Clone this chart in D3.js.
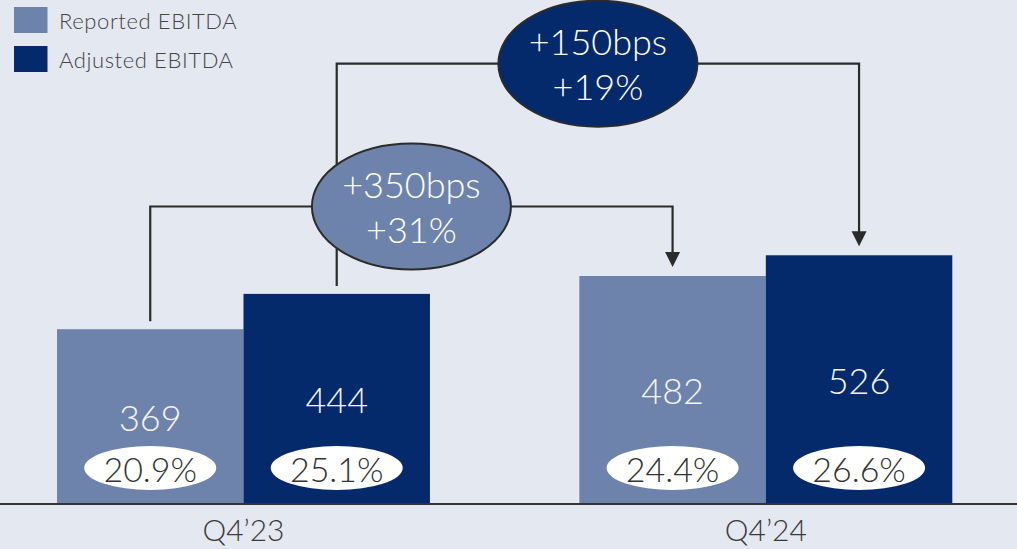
<!DOCTYPE html>
<html>
<head>
<meta charset="utf-8">
<script src="https://cdn.jsdelivr.net/npm/d3@7"></script>
<style>
	html, body { margin: 0; padding: 0; background: #e4e8f1; }
	svg { display: block; font-family: Lato, "Open Sans", sans-serif; font-weight: 300; }
</style>
</head>
<body>
<div class="chart"></div>
<script>
// chart data
const quarters = ["Q4’23", "Q4’24"];
const seriesNames = ["Reported EBITDA", "Adjusted EBITDA"];
const reported = [369, 482];
const adjusted = [444, 526];
const reportedMargin = ["20.9%", "24.4%"];
const adjustedMargin = ["25.1%", "26.6%"];
const bridgeSeries = ["Reported EBITDA", "Adjusted EBITDA"];
const bridgeBps = ["+350bps", "+150bps"];
const bridgePct = ["+31%", "+19%"];

const width = 1017;
const height = 549;
const colors = { "Reported EBITDA": "#6e83ab", "Adjusted EBITDA": "#042a6b" };
const lineColor = "#2b2b2b";
const bridgeLevels = [206.5, 63.7]; // y of the horizontal connector per bridge

const svg = d3.select("div.chart")
	.append("svg")
	.attr("width", width)
	.attr("height", height);

const x0 = d3.scaleBand()
	.domain(quarters)
	.range([57, 952.3])
	.paddingInner(0.286)
	.paddingOuter(0);

const x1 = d3.scaleBand()
	.domain(seriesNames)
	.range([0, x0.bandwidth()]);

const y = d3.scaleLinear()
	.domain([0, 1068])
	.range([503, 0]);

const valuesBySeries = { "Reported EBITDA": reported, "Adjusted EBITDA": adjusted };
const marginsBySeries = { "Reported EBITDA": reportedMargin, "Adjusted EBITDA": adjustedMargin };

let bars = [];
quarters.forEach((q, i) => {
	seriesNames.forEach(s => {
		bars.push({ quarter: q, series: s, value: valuesBySeries[s][i], margin: marginsBySeries[s][i] });
	});
});

const barX = d => x0(d.quarter) + x1(d.series);
const barCx = d => barX(d) + x1.bandwidth() / 2;

// bars
svg.append("g")
	.selectAll("rect")
	.data(bars)
	.join("rect")
	.attr("x", barX)
	.attr("y", d => y(d.value))
	.attr("width", x1.bandwidth())
	.attr("height", d => y(0) - y(d.value))
	.attr("fill", d => colors[d.series]);

// value labels, centred in the bar
svg.append("g")
	.selectAll("text")
	.data(bars)
	.join("text")
	.attr("x", barCx)
	.attr("y", d => (y(d.value) + y(0)) / 2 + 15)
	.attr("text-anchor", "middle")
	.attr("font-size", 36)
	.attr("fill", "#f4f5f8")
	.text(d => d.value);

// margin bubbles
let bubbles = svg.append("g")
	.selectAll("g")
	.data(bars)
	.join("g");

bubbles.append("ellipse")
	.attr("cx", barCx)
	.attr("cy", y(0) - 35)
	.attr("rx", 66)
	.attr("ry", 22)
	.attr("fill", "#ffffff");

bubbles.append("text")
	.attr("x", barCx)
	.attr("y", y(0) - 21.5)
	.attr("text-anchor", "middle")
	.attr("font-size", 34)
	.attr("fill", "#333333")
	.text(d => d.margin);

// baseline
svg.append("line")
	.attr("x1", 0)
	.attr("x2", width)
	.attr("y1", y(0) + 1)
	.attr("y2", y(0) + 1)
	.attr("stroke", "#333333")
	.attr("stroke-width", 2);

// category labels
svg.append("g")
	.selectAll("text")
	.data(quarters)
	.join("text")
	.attr("x", d => x0(d) + x0.bandwidth() / 2)
	.attr("y", y(0) + 38)
	.attr("text-anchor", "middle")
	.attr("font-size", 30)
	.attr("fill", "#3a3a3a")
	.text(d => d);

// bridges between the two quarters
let bridges = bridgeSeries.map((s, i) => {
	let from = bars.find(b => b.series === s && b.quarter === quarters[0]);
	let to = bars.find(b => b.series === s && b.quarter === quarters[1]);
	return { series: s, from, to, level: bridgeLevels[i], bps: bridgeBps[i], pct: bridgePct[i] };
});

let connectors = svg.append("g");
bridges.forEach(b => {
	let xa = barCx(b.from);
	let xb = barCx(b.to);
	let tipY = y(b.to.value) - 9;
	connectors.append("path")
		.attr("d", "M" + xa + "," + (y(b.from.value) - 8) + " V" + b.level + " H" + xb + " V" + (tipY - 14))
		.attr("fill", "none")
		.attr("stroke", lineColor)
		.attr("stroke-width", 2.2);
	connectors.append("path")
		.attr("d", "M" + (xb - 7.5) + "," + (tipY - 15) + " L" + (xb + 7.5) + "," + (tipY - 15) + " L" + xb + "," + tipY + " Z")
		.attr("fill", lineColor);
});

let labels = svg.append("g")
	.selectAll("g")
	.data(bridges)
	.join("g")
	.attr("transform", d => "translate(" + ((barCx(d.from) + barCx(d.to)) / 2) + "," + d.level + ")");

labels.append("ellipse")
	.attr("rx", 99.5)
	.attr("ry", 63)
	.attr("fill", d => colors[d.series])
	.attr("stroke", lineColor)
	.attr("stroke-width", 2);

labels.append("text")
	.attr("y", -8.5)
	.attr("text-anchor", "middle")
	.attr("font-size", 36)
	.attr("fill", "#ffffff")
	.text(d => d.bps);

labels.append("text")
	.attr("y", 36.5)
	.attr("text-anchor", "middle")
	.attr("font-size", 36)
	.attr("fill", "#ffffff")
	.text(d => d.pct);

// legend
let legend = svg.append("g")
	.selectAll("g")
	.data(seriesNames)
	.join("g")
	.attr("transform", (d, i) => "translate(14," + (7 + i * 39) + ")");

legend.append("rect")
	.attr("width", 33.5)
	.attr("height", 26)
	.attr("fill", d => colors[d]);

legend.append("text")
	.attr("x", 45)
	.attr("y", 22.3)
	.attr("font-size", 22)
	.attr("letter-spacing", 0.6)
	.attr("fill", "#454545")
	.text(d => d);
</script>
</body>
</html>
